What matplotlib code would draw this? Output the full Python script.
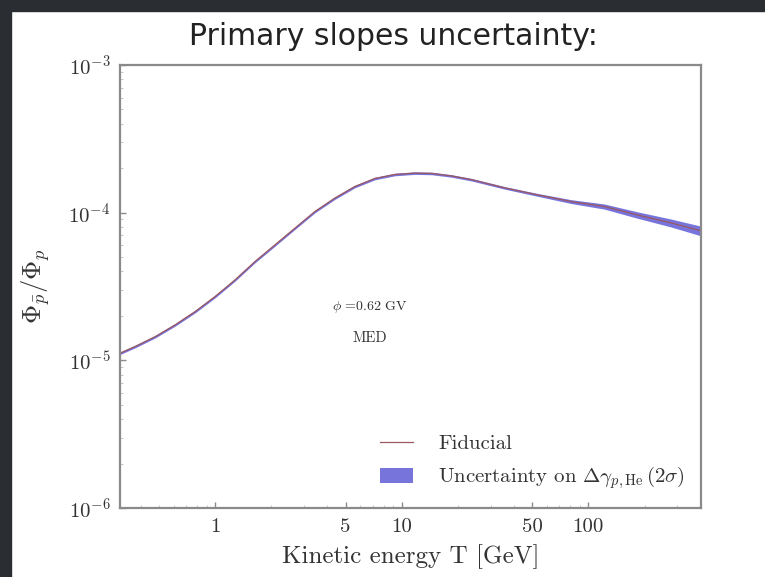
import numpy as np
import matplotlib
matplotlib.use("Agg")
import matplotlib.pyplot as plt
from matplotlib.patches import Rectangle
from matplotlib.ticker import FixedLocator, FixedFormatter, LogLocator, NullFormatter

plt.rcParams['font.family'] = ['cmr10']
plt.rcParams['mathtext.fontset'] = 'cm'
plt.rcParams['axes.unicode_minus'] = False
plt.rcParams['axes.formatter.use_mathtext'] = True

# Data
energy = [0.310, 0.373, 0.478, 0.611, 0.782, 1.0, 1.279, 1.636, 2.093, 2.678, 3.426,
          4.383, 5.607, 7.173, 9.18, 11.74, 14.5, 18.51, 23.68, 35.6, 53.4, 81.2,
          121.8, 182.8, 277.9, 397]
fiducial = [1.117e-5, 1.239e-5, 1.445e-5, 1.737e-5, 2.136e-5, 2.70e-5, 3.50e-5, 4.66e-5,
            6.04e-5, 7.84e-5, 1.016e-4, 1.253e-4, 1.50e-4, 1.70e-4, 1.81e-4, 1.85e-4,
            1.84e-4, 1.77e-4, 1.67e-4, 1.47e-4, 1.318e-4, 1.186e-4, 1.099e-4, 9.64e-5,
            8.51e-5, 7.55e-5]
band_rel = [0.02, 0.02, 0.02, 0.02, 0.02, 0.02, 0.02, 0.02, 0.02, 0.02, 0.02,
            0.02, 0.02, 0.02, 0.02, 0.02, 0.02, 0.02, 0.02, 0.02, 0.022, 0.03,
            0.04, 0.05, 0.062, 0.075]
xticks = [1, 5, 10, 50, 100]
xticklabels = ['1', '5', '10', '50', '100']

e = np.array(energy)
f = np.array(fiducial)
r = np.array(band_rel)

fig = plt.figure(figsize=(7.65, 5.77), dpi=100)
ax = fig.add_axes([0.157, 0.1196, 0.759, 0.768])

ax.fill_between(e, f * (1 - r), f * (1 + r), color='#4a46d0', alpha=0.75, lw=0,
                label=r'Uncertainty on $\Delta\gamma_{p,\mathrm{He}}\,(2\sigma)$')
ax.plot(e, f, color='#9a5860', lw=0.9, label='Fiducial')

ax.set_xscale('log')
ax.set_yscale('log')
ax.set_xlim(0.31, 400)
ax.set_ylim(1e-6, 1e-3)

ax.xaxis.set_major_locator(FixedLocator(xticks))
ax.xaxis.set_major_formatter(FixedFormatter(xticklabels))
ax.xaxis.set_minor_locator(LogLocator(base=10, subs=np.arange(2, 10)))
ax.xaxis.set_minor_formatter(NullFormatter())
ax.yaxis.set_minor_formatter(NullFormatter())

for s in ax.spines.values():
    s.set_color('#8a8a8a')
    s.set_linewidth(1.6)
ax.tick_params(axis='both', which='major', labelsize=15, color='#8a8a8a',
               labelcolor='#333333', length=4, width=1, direction='in', pad=7)
ax.tick_params(axis='both', which='minor', color='#bbbbbb', length=2, width=0.6, direction='in')

ax.set_xlabel('Kinetic energy T [GeV]', fontsize=18, color='#333333', labelpad=6)
ax.set_ylabel(r'$\Phi_{\bar{p}}/\Phi_p$', fontsize=19, color='#333333', labelpad=12)

ax.text(0.43, 0.454, r'$\phi$ =0.62 GV', transform=ax.transAxes, ha='center', va='center',
        fontsize=10, color='#333333')
ax.text(0.43, 0.384, 'MED', transform=ax.transAxes, ha='center', va='center',
        fontsize=10.5, color='#333333')

handles, labels = ax.get_legend_handles_labels()
ax.legend(handles[::-1], labels[::-1], loc='lower right', frameon=False, fontsize=15,
          labelcolor='#333333', bbox_to_anchor=(1.005, -0.005), labelspacing=0.55,
          handlelength=1.6, handletextpad=1.2)

fig.text(0.514, 0.936, 'Primary slopes uncertainty:', ha='center', va='center',
         fontsize=21.5, family='DejaVu Sans', color='#222222')

fig.patches.append(Rectangle((0, 0.981), 1, 0.02, transform=fig.transFigure,
                             color='#2a2e33', zorder=10))
fig.patches.append(Rectangle((0, 0), 0.014, 1, transform=fig.transFigure,
                             color='#2a2e33', zorder=10))

fig.savefig('out.png', dpi=100)
